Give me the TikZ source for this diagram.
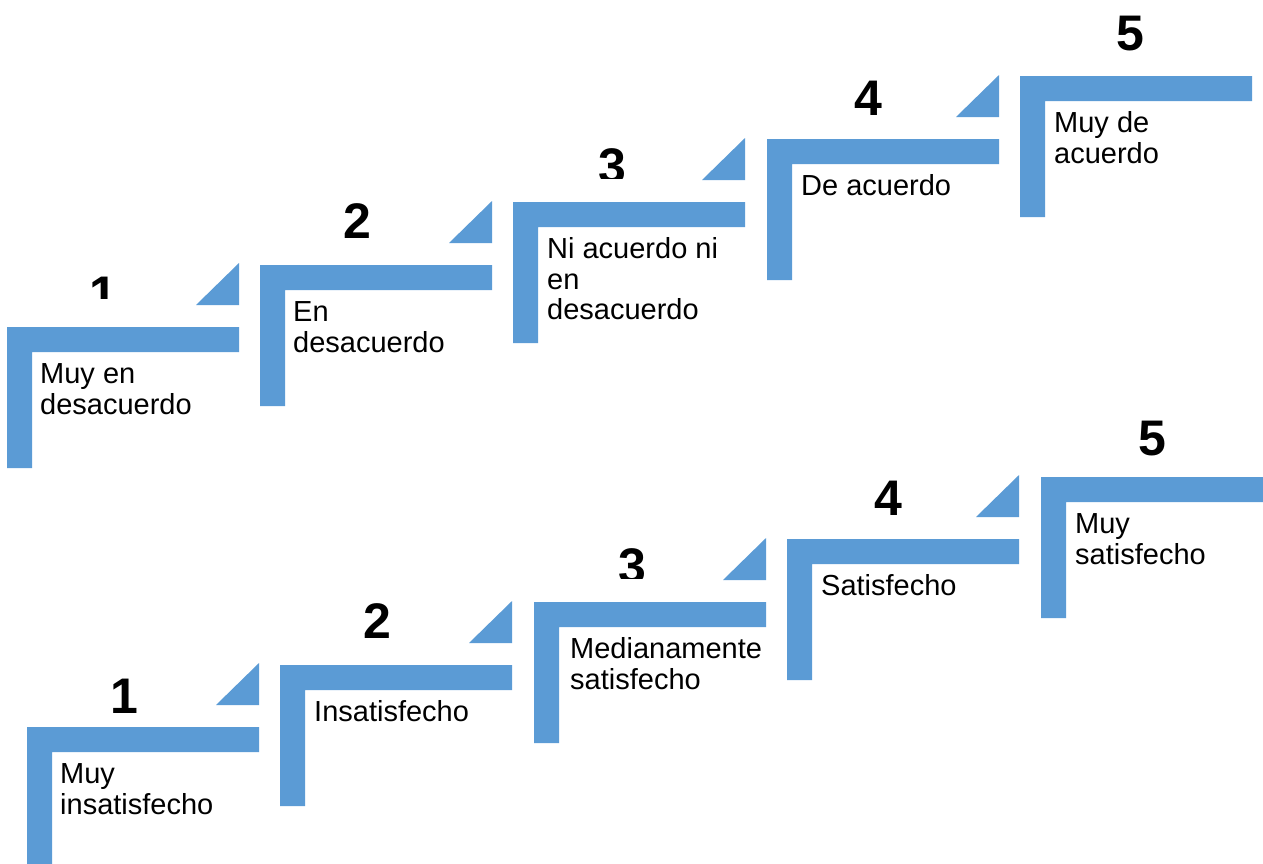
\documentclass[tikz,border=0pt]{standalone}
\usepackage{fontspec}
\setmainfont{Liberation Sans}
\definecolor{stepblue}{RGB}{91,155,213}
\newcommand\stairstep[2]{%
  \fill[stepblue] (#1,#2) -- (#1+232,#2) -- (#1+232,#2+25) -- (#1+25,#2+25) -- (#1+25,#2+141) -- (#1,#2+141) -- cycle;}
\newcommand\stairtri[2]{%
  \fill[stepblue] (#1+189,#2-22) -- (#1+232,#2-22) -- (#1+232,#2-64) -- cycle;}
\tikzset{
  lbl/.style={anchor=north west, inner sep=0pt, align=left, font=\fontsize{29}{30.5}\selectfont},
  num/.style={anchor=base, inner sep=0pt, font=\fontsize{50}{50}\selectfont\bfseries}
}
\begin{document}
\begin{tikzpicture}[x=1pt,y=-1pt]
\useasboundingbox (0,0) rectangle (1263,863);
\clip (0,0) rectangle (1263,863);
% top row
\stairstep{7}{327}\stairtri{7}{327}
\stairstep{260}{265}\stairtri{260}{265}
\stairstep{513}{202}\stairtri{513}{202}
\stairstep{767}{139}\stairtri{767}{139}
\stairstep{1020}{76}
% bottom row
\stairstep{27}{727}\stairtri{27}{727}
\stairstep{280}{665}\stairtri{280}{665}
\stairstep{534}{602}\stairtri{534}{602}
\stairstep{787}{539}\stairtri{787}{539}
\stairstep{1041}{477}
% labels top
\node[lbl] (t1) at (40,327+35) {\strut Muy en\\desacuerdo};
\node[lbl] (t2) at (293,265+35) {\strut En\\desacuerdo};
\node[lbl] (t3) at (547,202+35) {\strut Ni acuerdo ni\\en\\desacuerdo};
\node[lbl] (t4) at (801,139+35) {\strut De acuerdo};
\node[lbl] (t5) at (1054,76+35) {\strut Muy de\\acuerdo};
% labels bottom
\node[lbl] (b1) at (60,727+35) {\strut Muy\\insatisfecho};
\node[lbl] (b2) at (314,665+35) {\strut Insatisfecho};
\node[lbl] (b3) at (570,602+35) {\strut Medianamente\\satisfecho};
\node[lbl] (b4) at (821,539+35) {\strut Satisfecho};
\node[lbl] (b5) at (1075,477+35) {\strut Muy\\satisfecho};
% numbers top
\begin{scope}
\clip (0,0) rectangle (260,298);
\node[num] (n1) at (103,311) {1};
\end{scope}
\node[num] (n2) at (357,238) {2};
\begin{scope}
\clip (500,0) rectangle (760,178);
\node[num] (n3) at (612,183) {3};
\end{scope}
\node[num] (n4) at (868,115) {4};
\node[num] (n5) at (1130,50) {5};
% numbers bottom
\node[num] (m1) at (124,713) {1};
\node[num] (m2) at (377,638) {2};
\begin{scope}
\clip (520,500) rectangle (780,578);
\node[num] (m3) at (632,583) {3};
\end{scope}
\node[num] (m4) at (888,515) {4};
\node[num] (m5) at (1152,455) {5};
\end{tikzpicture}
\end{document}
